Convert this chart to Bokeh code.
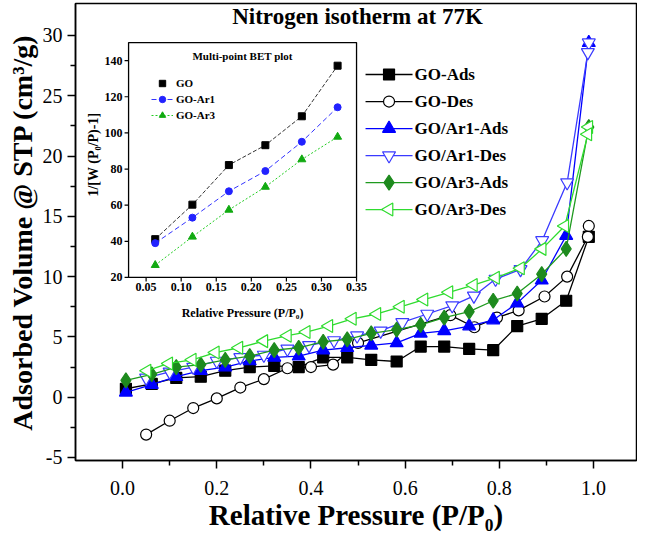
import math
from bokeh.plotting import figure
from bokeh.models import Range1d, Legend, LegendItem, Label, FixedTicker, PrintfTickFormatter
from bokeh.core.properties import value
from bokeh.embed import file_html
from bokeh.resources import INLINE

FONT = "Liberation Serif"

# ---------------- main isotherm data ----------------
ads_x = [0.007, 0.062, 0.114, 0.166, 0.218, 0.270, 0.322, 0.374, 0.426, 0.477,
         0.528, 0.582, 0.633, 0.683, 0.736, 0.787, 0.838, 0.890, 0.942, 0.990]
go_ads = [0.7, 1.1, 1.6, 1.7, 2.2, 2.5, 2.6, 2.5, 3.3, 3.3,
          3.1, 2.96, 4.2, 4.2, 4.0, 3.9, 5.9, 6.5, 8.0, 13.3]
ar1_ads = [0.4, 1.05, 1.7, 2.2, 2.5, 3.0, 3.3, 3.4, 3.9, 4.1,
           4.3, 4.5, 5.3, 5.5, 5.9, 6.4, 7.8, 9.7, 13.4, 29.4]
ar3_ads = [1.4, 1.9, 2.5, 2.7, 3.1, 3.4, 3.9, 4.1, 4.6, 4.8,
           5.3, 5.6, 6.0, 6.6, 7.1, 8.0, 8.6, 10.2, 12.3, 22.4]

go_des_x = [0.990, 0.988, 0.944, 0.896, 0.841, 0.795, 0.747, 0.696, 0.500, 0.447,
            0.400, 0.350, 0.300, 0.250, 0.200, 0.150, 0.100, 0.050]
go_des = [14.2, 13.3, 10.0, 8.35, 7.2, 6.6, 5.8, 6.8, 4.5, 2.7,
          2.5, 2.4, 1.5, 0.8, -0.1, -0.9, -1.95, -3.1]

ar1_des_x = [0.990, 0.988, 0.944, 0.891, 0.845, 0.792, 0.746, 0.700, 0.647, 0.594,
             0.548, 0.498, 0.449, 0.396, 0.350, 0.300, 0.250, 0.200, 0.150, 0.100, 0.050]
ar1_des = [29.4, 28.6, 17.8, 13.0, 10.6, 9.8, 8.4, 7.6, 6.9, 6.2,
           5.5, 5.1, 4.7, 4.3, 4.0, 3.5, 3.3, 3.0, 2.5, 2.1, 1.6]

ar3_des_x = [0.990, 0.988, 0.939, 0.891, 0.845, 0.792, 0.745, 0.693, 0.640, 0.590,
             0.540, 0.488, 0.438, 0.390, 0.350, 0.300, 0.247, 0.197, 0.148, 0.098, 0.052]
ar3_des = [22.4, 21.8, 14.2, 12.3, 10.7, 9.9, 9.3, 8.7, 8.1, 7.5,
           6.9, 6.5, 5.9, 5.4, 5.1, 4.65, 4.1, 3.7, 3.1, 2.8, 2.2]

x_ticks = [0.0, 0.2, 0.4, 0.6, 0.8, 1.0]
x_minor = [0.1, 0.3, 0.5, 0.7, 0.9]
y_ticks = [-5, 0, 5, 10, 15, 20, 25, 30]
y_minor = [-2.5, 2.5, 7.5, 12.5, 17.5, 22.5, 27.5]

# ---------------- inset (BET) data ----------------
bet_x = [0.063, 0.116, 0.168, 0.220, 0.272, 0.323]
bet_go = [41.2, 60.3, 82.2, 93.2, 109.2, 137.2]
bet_ar1 = [39.0, 53.1, 67.7, 78.9, 95.1, 114.2]
bet_ar3 = [26.8, 42.5, 57.4, 70.1, 85.3, 97.8]
bet_x_ticks = [0.05, 0.10, 0.15, 0.20, 0.25, 0.30, 0.35]
bet_y_ticks = [20, 40, 60, 80, 100, 120, 140]

# ---------------- main figure ----------------
p = figure(width=637, height=536, output_backend="svg", toolbar_location=None,
           x_range=Range1d(-0.1, 1.0913), y_range=Range1d(-5.25, 32.65),
           min_border_left=75, min_border_right=1, min_border_top=3, min_border_bottom=76)
p.grid.visible = False
p.outline_line_color = "black"
p.outline_line_width = 1.5
p.background_fill_color = "white"
p.border_fill_color = "white"

for ax in (p.xaxis[0], p.yaxis[0]):
    ax.axis_line_width = 1.5
    ax.major_tick_out = 8
    ax.major_tick_in = 0
    ax.minor_tick_out = 5
    ax.minor_tick_in = 0
    ax.major_tick_line_width = 1.5
    ax.minor_tick_line_width = 1.5
    ax.major_label_text_font = FONT
    ax.major_label_text_font_size = "20px"
    ax.major_label_text_color = "black"
    ax.axis_label_text_font = FONT
    ax.axis_label_text_font_style = "bold"
    ax.axis_label_text_color = "black"

p.xaxis.ticker = FixedTicker(ticks=x_ticks, minor_ticks=x_minor)
p.xaxis.formatter = PrintfTickFormatter(format="%.1f")
p.yaxis.ticker = FixedTicker(ticks=y_ticks, minor_ticks=y_minor)
p.yaxis.formatter = PrintfTickFormatter(format="%d")
p.yaxis.axis_label = "Adsorbed Volume @ STP (cm\u00b3/g)"
p.xaxis.axis_label = "Relative Pressure (P/P\u2080)"
p.yaxis.axis_label_text_font_size = "28px"
p.xaxis.axis_label_text_font_size = "29px"
p.xaxis.major_label_standoff = 12
p.yaxis.major_label_standoff = 5
p.yaxis.axis_label_standoff = 2
p.xaxis.axis_label_standoff = 1

p.add_layout(Label(x=282, y=444, x_units="screen", y_units="screen",
                   text="Nitrogen isotherm at 77K", text_align="center", text_baseline="middle",
                   text_font=FONT, text_font_style="bold", text_font_size="23px", text_color="black"))

LW = 1.3
series = [
    ("GO-Ads", ads_x, go_ads, "black", dict(marker="square", size=11, fill_color="black", line_color="black")),
    ("GO-Des", go_des_x, go_des, "black", dict(marker="circle", size=11, fill_color="white", line_color="black")),
    ("GO/Ar1-Ads", ads_x, ar1_ads, "#0000ff", dict(marker="triangle", size=13, fill_color="#0000ff", line_color="#0000ff")),
    ("GO/Ar1-Des", ar1_des_x, ar1_des, "#3a3aff", dict(marker="inverted_triangle", size=13, fill_color="white", line_color="#3a3aff")),
    ("GO/Ar3-Ads", ads_x, ar3_ads, "#1f9a1f", dict(marker="diamond", size=15, fill_color="#1e8a1e", line_color="#1e8a1e")),
    ("GO/Ar3-Des", ar3_des_x, ar3_des, "#2fdc2f", dict(marker="triangle", size=13, angle=math.pi / 2, fill_color="white", line_color="#2fdc2f")),
]
for name, xs, ys, col, mk in series:
    p.line(xs, ys, line_color=col, line_width=LW)
    p.scatter(xs, ys, line_width=1.2, **mk)

# ---------------- legend (one row per series, drawn in its own sub-coordinates) ----------------
leg = p.subplot(x_source=Range1d(0, 1), y_source=Range1d(-0.5, len(series) - 0.5),
                x_target=Range1d(0.5159, 0.6157), y_target=Range1d(27.88, 14.44))
for row, (name, xs, ys, col, mk) in enumerate(series):
    leg.segment(x0=[0], y0=[row], x1=[1], y1=[row], line_color=col, line_width=LW)
    leg.scatter(x=[0.5], y=[row], line_width=1.2, **mk)
    leg.text(x=[1], y=[row], text=[name], x_offset=2, text_align="left", text_baseline="middle",
             text_font=value(FONT), text_font_style="bold", text_font_size="17px", text_color="black")

# ---------------- inset via sub-coordinates ----------------
IX0, IX1, IY0, IY1 = 0.025, 0.35, 20, 150
sub = p.subplot(x_source=Range1d(IX0, IX1), y_source=Range1d(IY0, IY1),
                x_target=Range1d(0.0127, 0.4968), y_target=Range1d(9.93, 29.41))

sub.quad(left=IX0, right=IX1, bottom=IY0, top=IY1, fill_color="white",
         line_color="black", line_width=1.3)
sub.segment(x0=bet_x_ticks, y0=IY0, x1=bet_x_ticks, y1=IY0 - 2.3, line_color="black", line_width=1.2)
sub.segment(x0=IX0, y0=bet_y_ticks, x1=IX0 - 0.0057, y1=bet_y_ticks, line_color="black", line_width=1.2)
sub.text(x=bet_x_ticks, y=IY0, text=["%.2f" % t for t in bet_x_ticks], y_offset=6,
         text_align="center", text_baseline="top", text_font=value(FONT),
         text_font_style="bold", text_font_size="12px", text_color="black")
sub.text(x=IX0, y=bet_y_ticks, text=[str(t) for t in bet_y_ticks], x_offset=-6,
         text_align="right", text_baseline="middle", text_font=value(FONT),
         text_font_style="bold", text_font_size="12px", text_color="black")
sub.text(x=(IX0 + IX1) / 2, y=IY0, text=["Relative Pressure (P/P\u2080)"], y_offset=29,
         text_align="center", text_baseline="top", text_font=value(FONT),
         text_font_style="bold", text_font_size="12px", text_color="black")
sub.text(x=IX0, y=(IY0 + IY1) / 2 + 3, text=["1/[W (P\u2080/P)-1]"], x_offset=-35, angle=math.pi / 2,
         text_align="center", text_baseline="middle", text_font=value(FONT),
         text_font_style="bold", text_font_size="14px", text_color="black")
sub.text(x=(IX0 + IX1) / 2, y=IY1, text=["Multi-point BET plot"], y_offset=13,
         text_align="center", text_baseline="middle", text_font=value(FONT),
         text_font_style="bold", text_font_size="11px", text_color="black")

l_go = sub.line(bet_x, bet_go, line_color="#333333", line_width=1, line_dash="4 2")
s_go = sub.scatter(bet_x, bet_go, marker="square", size=7, fill_color="black", line_color="black")
l_a1 = sub.line(bet_x, bet_ar1, line_color="#3333ff", line_width=1, line_dash="5 3")
s_a1 = sub.scatter(bet_x, bet_ar1, marker="circle", size=7, fill_color="#2222ff", line_color="#2222ff")
l_a3 = sub.line(bet_x, bet_ar3, line_color="#22cc22", line_width=1, line_dash="2 2")
s_a3 = sub.scatter(bet_x, bet_ar3, marker="triangle", size=8, fill_color="#11aa11", line_color="#11aa11")

inset_legend = Legend(items=[LegendItem(label="GO", renderers=[s_go]),
                             LegendItem(label="GO-Ar1", renderers=[l_a1, s_a1]),
                             LegendItem(label="GO-Ar3", renderers=[l_a3, s_a3])],
                      location=(76, 337), glyph_width=22, glyph_height=16, label_height=16,
                      spacing=0, label_standoff=3, padding=0, margin=0,
                      border_line_color=None, background_fill_alpha=0,
                      label_text_font=FONT, label_text_font_style="bold",
                      label_text_font_size="11px", label_text_color="black")
p.add_layout(inset_legend)

open("out.html", "w").write(file_html(p, INLINE))
